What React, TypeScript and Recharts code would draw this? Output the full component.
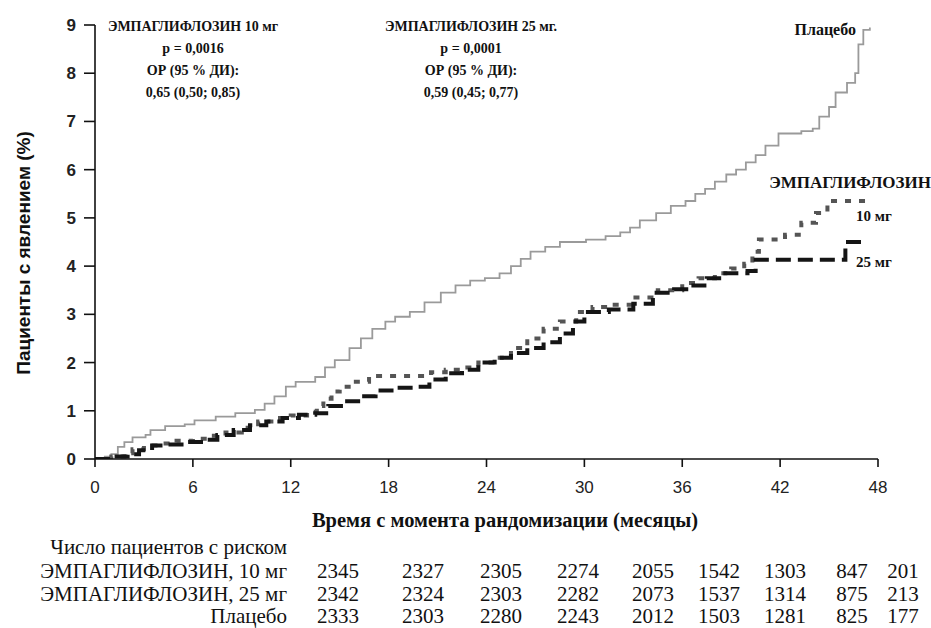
import React from 'react';
import { LineChart, Line, XAxis, YAxis } from 'recharts';

// ---- Data ----
const placeboMonths = [0, 0.6, 1.0, 1.4, 1.8, 2.3, 3.1, 3.4, 4.3, 5.5, 6.1, 7.4, 8.6, 9.8, 10.4, 11.0, 11.7, 12.3, 13.5, 14.1, 14.7, 15.6, 16.3, 17.0, 17.8, 18.4, 19.3, 20.2, 21.2, 22.1, 23.0, 23.9, 24.8, 25.5, 26.1, 26.7, 27.6, 28.5, 30.1, 31.3, 32.2, 32.8, 33.4, 34.4, 35.3, 36.2, 36.8, 37.4, 38.0, 38.7, 39.3, 39.9, 40.5, 41.1, 41.9, 43.3, 44.0, 44.4, 45.0, 45.4, 46.1, 46.6, 46.8, 47.1, 47.5];
const placeboPct = [0, 0.05, 0.1, 0.25, 0.35, 0.45, 0.5, 0.6, 0.68, 0.72, 0.8, 0.88, 0.95, 1.02, 1.15, 1.3, 1.5, 1.6, 1.7, 1.9, 2.05, 2.3, 2.5, 2.7, 2.85, 2.95, 3.05, 3.25, 3.45, 3.6, 3.7, 3.75, 3.85, 4.0, 4.15, 4.3, 4.4, 4.5, 4.55, 4.62, 4.7, 4.8, 4.95, 5.1, 5.25, 5.35, 5.5, 5.6, 5.75, 5.9, 6.0, 6.15, 6.3, 6.5, 6.75, 6.8, 6.85, 7.1, 7.3, 7.6, 7.8, 8.0, 8.6, 8.9, 8.95];

const empa10Months = [0, 1.0, 1.8, 2.3, 3.0, 4.0, 5.0, 6.0, 7.0, 8.0, 9.0, 10.0, 11.0, 12.0, 13.0, 13.6, 14.0, 14.5, 15.0, 15.8, 16.8, 20.6, 21.5, 22.5, 23.5, 24.5, 25.5, 26.5, 27.5, 28.5, 29.5, 30.5, 31.5, 33.0, 34.5, 36.0, 37.0, 38.0, 39.0, 39.8, 40.3, 40.7, 42.3, 43.3, 44.2, 44.9, 47.3];
const empa10Pct = [0, 0.05, 0.12, 0.2, 0.28, 0.32, 0.38, 0.42, 0.48, 0.55, 0.65, 0.78, 0.85, 0.9, 0.98, 1.1, 1.25, 1.4, 1.5, 1.6, 1.72, 1.8, 1.85, 1.9, 2.0, 2.1, 2.3, 2.5, 2.7, 2.85, 3.05, 3.15, 3.2, 3.35, 3.5, 3.65, 3.75, 3.85, 3.95, 4.05, 4.3, 4.55, 4.65, 4.9, 5.1, 5.35, 5.35];

const empa25Months = [0, 1.0, 2.0, 2.7, 3.5, 4.5, 5.5, 6.5, 7.5, 8.5, 9.5, 10.5, 11.5, 12.5, 13.5, 14.3, 15.3, 16.5, 17.2, 18.5, 19.5, 20.5, 21.5, 22.5, 23.5, 24.5, 25.5, 26.5, 27.5, 28.5, 29.3, 30.0, 31.5, 33.0, 34.2, 35.5, 36.5, 37.5, 38.5, 40.0, 40.5, 46.0, 47.3];
const empa25Pct = [0, 0.05, 0.1, 0.18, 0.28, 0.3, 0.35, 0.4, 0.5, 0.6, 0.7, 0.78, 0.85, 0.92, 0.95, 1.1, 1.2, 1.3, 1.42, 1.48, 1.5, 1.65, 1.78, 1.85, 2.0, 2.1, 2.2, 2.3, 2.42, 2.6, 2.85, 3.05, 3.1, 3.22, 3.45, 3.52, 3.6, 3.75, 3.85, 3.9, 4.13, 4.5, 4.5];

const xTicks = [0, 6, 12, 18, 24, 30, 36, 42, 48];
const yTicks = [0, 1, 2, 3, 4, 5, 6, 7, 8, 9];

const riskHeader = 'Число пациентов с риском';
const riskLabels = ['ЭМПАГЛИФЛОЗИН, 10 мг', 'ЭМПАГЛИФЛОЗИН, 25 мг', 'Плацебо'];
const risk10 = [2345, 2327, 2305, 2274, 2055, 1542, 1303, 847, 201];
const risk25 = [2342, 2324, 2303, 2282, 2073, 1537, 1314, 875, 213];
const riskPlacebo = [2333, 2303, 2280, 2243, 2012, 1503, 1281, 825, 177];

const annot10 = ['ЭМПАГЛИФЛОЗИН 10 мг', 'p = 0,0016', 'ОР (95 % ДИ):', '0,65 (0,50; 0,85)'];
const annot25 = ['ЭМПАГЛИФЛОЗИН 25 мг.', 'p = 0,0001', 'ОР (95 % ДИ):', '0,59 (0,45; 0,77)'];

const toSeries = (xs: number[], ys: number[]) => xs.map((m, i) => ({ m, v: ys[i] }));
const placeboData = toSeries(placeboMonths, placeboPct);
const empa10Data = toSeries(empa10Months, empa10Pct);
const empa25Data = toSeries(empa25Months, empa25Pct);

// ---- layout constants ----
const riskColX = [338, 423, 501, 578, 653, 719, 785, 852, 903];
const riskRowY = [571, 594, 616];
const serif = '"Liberation Serif", "Times New Roman", serif';
const sans = '"Liberation Sans", Arial, sans-serif';

const abs = (extra: React.CSSProperties): React.CSSProperties => ({
  position: 'absolute',
  whiteSpace: 'nowrap',
  lineHeight: 1,
  color: '#111',
  ...extra,
});

export default function App() {
  const riskRows = [risk10, risk25, riskPlacebo];
  return (
    <div style={{ position: 'absolute', left: 0, top: 0, width: 931, height: 628, background: '#fff', overflow: 'hidden' }}>
      <LineChart width={931} height={500} margin={{ top: 25, right: 53, left: 0, bottom: 0 }}>
        <XAxis
          dataKey="m"
          type="number"
          domain={[0, 48]}
          ticks={xTicks}
          allowDataOverflow
          height={41}
          tickSize={8}
          tickMargin={14}
          axisLine={{ stroke: '#111', strokeWidth: 1.6 }}
          tickLine={{ stroke: '#111', strokeWidth: 1.6 }}
          tick={{ fill: '#222', fontSize: 17, fontFamily: sans }}
        />
        <YAxis
          dataKey="v"
          type="number"
          domain={[0, 9]}
          ticks={yTicks}
          allowDataOverflow
          width={95}
          tickSize={11}
          tickMargin={8}
          axisLine={{ stroke: '#111', strokeWidth: 1.6 }}
          tickLine={{ stroke: '#111', strokeWidth: 1.6 }}
          tick={{ fill: '#222', fontSize: 17, fontFamily: sans, fontWeight: 'bold' }}
        />
        <Line data={placeboData} dataKey="v" type="stepAfter" stroke="#9a9a9a" strokeWidth={1.8} dot={false} isAnimationActive={false} />
        <Line data={empa10Data} dataKey="v" type="stepAfter" stroke="#555555" strokeWidth={4} strokeDasharray="6 8" dot={false} isAnimationActive={false} />
        <Line data={empa25Data} dataKey="v" type="stepAfter" stroke="#151515" strokeWidth={4} strokeDasharray="15 7" dot={false} isAnimationActive={false} />
      </LineChart>

      {/* annotations */}
      {annot10.map((t, i) => (
        <div key={'a10' + i} style={abs({ left: 193, top: 27 + i * 22, transform: 'translate(-50%, -50%)', fontFamily: serif, fontWeight: 'bold', fontSize: 14 })}>{t}</div>
      ))}
      {annot25.map((t, i) => (
        <div key={'a25' + i} style={abs({ left: 471, top: 27 + i * 22, transform: 'translate(-50%, -50%)', fontFamily: serif, fontWeight: 'bold', fontSize: 14 })}>{t}</div>
      ))}
      <div style={abs({ right: 931 - 856, top: 30, transform: 'translateY(-50%)', fontFamily: serif, fontWeight: 'bold', fontSize: 16 })}>Плацебо</div>
      <div style={abs({ right: 0, top: 182, transform: 'translateY(-50%)', fontFamily: serif, fontWeight: 'bold', fontSize: 17 })}>ЭМПАГЛИФЛОЗИН</div>
      <div style={abs({ left: 856, top: 216, transform: 'translateY(-50%)', fontFamily: serif, fontWeight: 'bold', fontSize: 15 })}>10 мг</div>
      <div style={abs({ left: 856, top: 262, transform: 'translateY(-50%)', fontFamily: serif, fontWeight: 'bold', fontSize: 15 })}>25 мг</div>

      {/* axis titles */}
      <div style={abs({ left: 23, top: 253, transform: 'translate(-50%, -50%) rotate(-90deg)', fontFamily: sans, fontWeight: 'bold', fontSize: 19 })}>Пациенты с явлением (%)</div>
      <div style={abs({ left: 505, top: 520, transform: 'translate(-50%, -50%)', fontFamily: serif, fontWeight: 'bold', fontSize: 20.5 })}>Время с момента рандомизации (месяцы)</div>

      {/* numbers at risk */}
      <div style={abs({ right: 931 - 287, top: 547, transform: 'translateY(-50%)', fontFamily: serif, fontSize: 21 })}>{riskHeader}</div>
      {riskLabels.map((t, r) => (
        <div key={'rl' + r} style={abs({ right: 931 - 287, top: riskRowY[r], transform: 'translateY(-50%)', fontFamily: serif, fontSize: 21 })}>{t}</div>
      ))}
      {riskRows.map((row, r) =>
        row.map((n, c) => (
          <div key={'rn' + r + '_' + c} style={abs({ left: riskColX[c], top: riskRowY[r], transform: 'translate(-50%, -50%)', fontFamily: serif, fontSize: 21 })}>{n}</div>
        ))
      )}
    </div>
  );
}
